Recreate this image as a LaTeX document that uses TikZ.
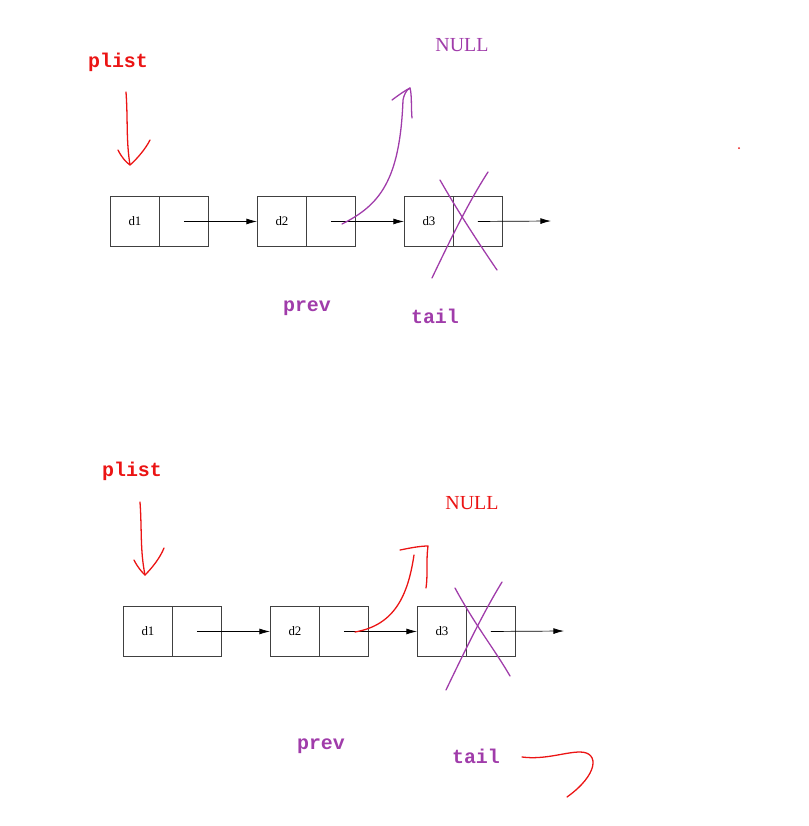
\documentclass[tikz,border=0pt]{standalone}
\usepackage{fontspec}
\setmainfont{Liberation Serif}
\newfontfamily\monof{Liberation Mono}
\usetikzlibrary{arrows.meta}
\definecolor{pur}{RGB}{160,60,170}
\definecolor{rd}{RGB}{235,20,20}
\begin{document}
\begin{tikzpicture}[x=0.03cm,y=-0.03cm,
  cell/.style={draw=black!75,minimum width=1.47cm,minimum height=1.5cm,inner sep=0,anchor=north west,line width=0.8pt},
  lbl/.style={font=\monof\bfseries\fontsize{17}{17}\selectfont},
  nul/.style={font=\fontsize{17}{17}\selectfont},
  dl/.style={font=\fontsize{11}{11}\selectfont},
  link/.style={-{Latex[length=9pt,width=5pt]},line width=0.6pt},
  hand/.style={line width=1.1pt,line cap=round,line join=round}]
\useasboundingbox (0,0) rectangle (809,826);
\foreach \yy/\xa/\xb/\xc/\s in {196/110/257/404/t,606/123/270/417/b}{
  \node[cell] (a1\s) at (\xa,\yy) {};
  \node[cell] (b1\s) at (\xa+49,\yy) {};
  \node[cell] (a2\s) at (\xb,\yy) {};
  \node[cell] (b2\s) at (\xb+49,\yy) {};
  \node[cell] (a3\s) at (\xc,\yy) {};
  \node[cell] (b3\s) at (\xc+49,\yy) {};
  \node[dl] at (a1\s) {d1};
  \node[dl] at (a2\s) {d2};
  \node[dl] at (a3\s) {d3};
  \coordinate (e\s) at (\xc+147,\yy+25);
  \draw[link] (b1\s.center) -- (a2\s.west);
  \draw[link] (b2\s.center) -- (a3\s.west);
  \draw[link] (b3\s.center) -- (e\s);
}
% top annotations
\node[lbl,text=rd] (pl1) at (118,62) {plist};
\node[nul,text=pur] (n1) at (462,45) {NULL};
\node[lbl,text=pur] (pv1) at (307,308) {prev};
\node[lbl,text=pur] (tl1) at (435,316) {tail};
\draw[hand,rd] (126,92) .. controls (128,120) and (126,140) .. (130,165);
\draw[hand,rd] (118,150) .. controls (122,158) and (126,162) .. (130,165) .. controls (138,158) and (146,148) .. (150,140);
\draw[hand,pur] (342,224) .. controls (380,205) and (400,180) .. (403,100) .. controls (404,95) and (406,90) .. (410,88);
\draw[hand,pur] (392,100) .. controls (400,94) and (406,90) .. (410,88) .. controls (412,95) and (411,108) .. (412,118);
\draw[hand,pur] (432,278) .. controls (455,230) and (470,200) .. (488,172);
\draw[hand,pur] (440,180) .. controls (460,215) and (480,245) .. (497,270);
\fill[rd] (739,148) circle (1);
% bottom annotations
\node[lbl,text=rd] (pl2) at (132,471) {plist};
\node[nul,text=rd] (n2) at (472,503) {NULL};
\node[lbl,text=pur] (pv2) at (321,746) {prev};
\node[lbl,text=pur] (tl2) at (476,756) {tail};
\draw[hand,rd] (140,502) .. controls (142,530) and (140,550) .. (145,575);
\draw[hand,rd] (134,560) .. controls (138,568) and (142,572) .. (145,575) .. controls (152,568) and (160,558) .. (164,548);
\draw[hand,rd] (355,632) .. controls (395,625) and (408,595) .. (414,555);
\draw[hand,rd] (400,550) .. controls (410,548) and (420,546) .. (428,546) .. controls (426,560) and (428,575) .. (426,588);
\draw[hand,pur] (446,690) .. controls (470,640) and (485,610) .. (502,582);
\draw[hand,pur] (455,588) .. controls (475,625) and (495,650) .. (510,676);
\draw[hand,rd] (522,757) .. controls (545,760) and (565,752) .. (580,752) .. controls (600,752) and (598,775) .. (567,797);
\end{tikzpicture}
\end{document}
